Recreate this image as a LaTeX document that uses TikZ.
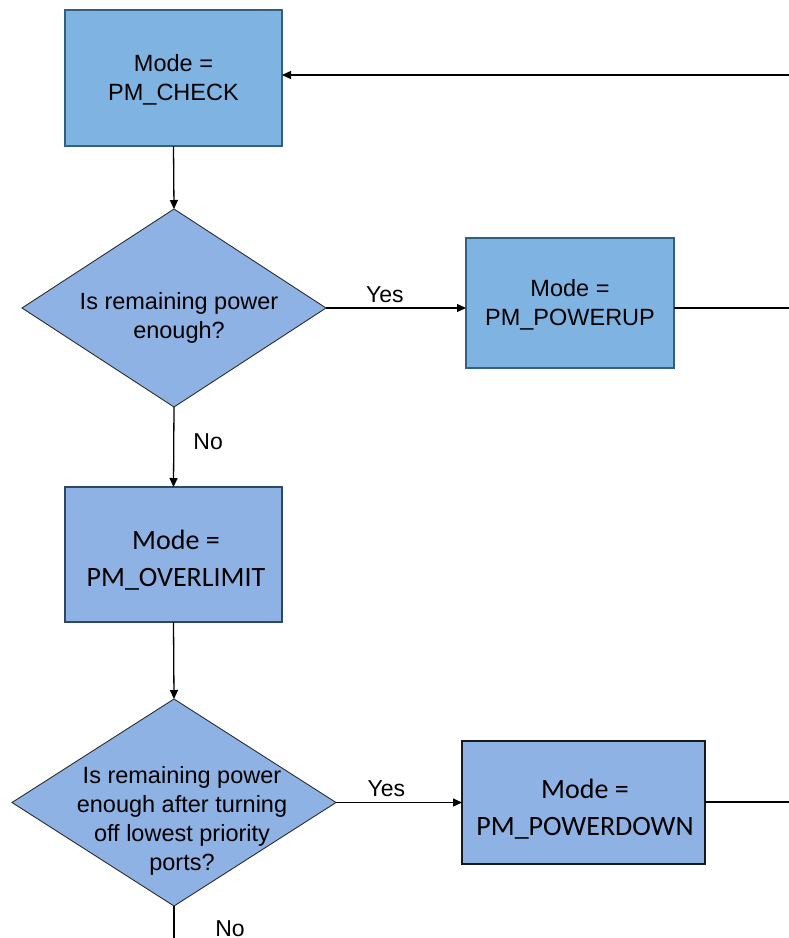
\documentclass[tikz,border=0pt]{standalone}
\usepackage{fontspec}
\setmainfont{Liberation Sans}
\newfontfamily\calib{Carlito}
\usetikzlibrary{shapes.geometric,arrows.meta}
\definecolor{fillA}{RGB}{127,179,226}
\definecolor{edgeA}{RGB}{52,96,128}
\definecolor{fillB}{RGB}{141,178,227}
\definecolor{edgeB}{RGB}{44,72,100}
\definecolor{edgeD}{RGB}{45,45,45}
\tikzset{
  boxA/.style={draw=edgeA, fill=fillA, line width=2.2pt, rectangle, outer sep=0pt, inner sep=0pt},
  boxB/.style={draw=edgeB, fill=fillB, line width=1.8pt, rectangle, outer sep=0pt, inner sep=0pt},
  boxC/.style={draw=black!90, fill=fillB, line width=1.2pt, rectangle, outer sep=0pt, inner sep=0pt},
  dec/.style={draw=edgeD, fill=fillB, line width=0.9pt, diamond, outer sep=0pt, inner sep=0pt},
  txtA/.style={align=center, font=\fontsize{23.5}{28.8}\selectfont, inner sep=0pt},
  txtB/.style={align=center, font=\calib\fontsize{28}{37}\selectfont, inner sep=0pt},
  lbl/.style={font=\fontsize{23}{28}\selectfont, inner sep=0pt},
  conn/.style={draw=black, line width=1.3pt},
  arr/.style={conn, -{Triangle[length=9pt,width=8pt]}}
}
\begin{document}
\begin{tikzpicture}[x=1pt,y=-1pt]
\useasboundingbox (0,0) rectangle (789,938);

% nodes
\node[boxA, minimum width=217pt, minimum height=136pt] (b1) at (173.5,78) {};
\node[txtA] (t1) at (173.5,80) {Mode =\\PM\_CHECK};

\node[dec, minimum width=304pt, minimum height=198pt] (d1) at (174,308) {};
\node[txtA] (td1) at (179,318) {Is remaining power\\enough?};

\node[boxA, minimum width=208pt, minimum height=130pt] (b2) at (570,303) {};
\node[txtA] (t2) at (570,305) {Mode =\\PM\_POWERUP};

\node[boxB, minimum width=217pt, minimum height=135pt] (b3) at (173.5,554.5) {};
\node[txtB] (t3) at (176,560) {Mode =\\PM\_OVERLIMIT};

\node[dec, minimum width=324pt, minimum height=207pt] (d2) at (174,802.5) {};
\node[txtA] (td2) at (182,821) {Is remaining power\\enough after turning\\off lowest priority\\ports?};

\node[boxC, minimum width=243pt, minimum height=123pt] (b4) at (583.5,802.5) {};
\node[txtB] (t4) at (585,809) {Mode =\\PM\_POWERDOWN};

% free ends
\coordinate (in1) at (789,75);
\coordinate (out2) at (789,308);
\coordinate (out4) at (789,802);
\coordinate (down2) at (174,938);

% connectors
\draw[arr] (in1) -- (in1 -| b1.east);
\draw[arr] (b1.south) -- (d1.north);
\draw[arr] (d1.east) -- (d1.east -| b2.west) node[lbl, pos=0.42, above=5pt] (y1) {Yes};
\draw[conn] (out2 -| b2.east) -- (out2);
\draw[arr] (d1.south) -- (b3.north) node[lbl, pos=0.43, right=19pt] (n1) {No};
\draw[arr] (b3.south) -- (d2.north);
\draw[arr] (d2.east) -- (d2.east -| b4.west) node[lbl, pos=0.4, above=5pt] (y2) {Yes};
\draw[conn] (out4 -| b4.east) -- (out4);
\draw[conn] (d2.south) -- (down2);
\node[lbl] (n2) at (230,929) {No};
\end{tikzpicture}
\end{document}
